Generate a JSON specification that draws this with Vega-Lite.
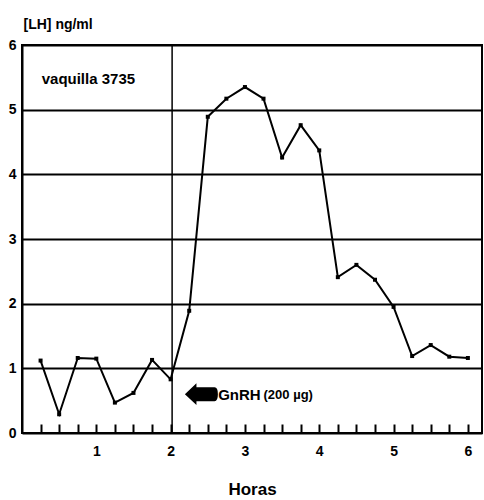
{
  "$schema": "https://vega.github.io/schema/vega-lite/v6.json",
  "width": 460,
  "height": 388,
  "autosize": {"type": "none"},
  "padding": {"left": 22, "top": 45, "right": 2, "bottom": 67},
  "background": "white",
  "config": {
    "view": {"stroke": "black", "strokeWidth": 2},
    "font": "Liberation Sans"
  },
  "datasets": {
    "lh": [
      {"hora": 0.25, "lh": 1.12},
      {"hora": 0.5, "lh": 0.29},
      {"hora": 0.75, "lh": 1.16},
      {"hora": 1.0, "lh": 1.15},
      {"hora": 1.25, "lh": 0.47},
      {"hora": 1.5, "lh": 0.62},
      {"hora": 1.75, "lh": 1.13},
      {"hora": 2.0, "lh": 0.83},
      {"hora": 2.25, "lh": 1.89},
      {"hora": 2.5, "lh": 4.89},
      {"hora": 2.75, "lh": 5.17},
      {"hora": 3.0, "lh": 5.35},
      {"hora": 3.25, "lh": 5.17},
      {"hora": 3.5, "lh": 4.26},
      {"hora": 3.75, "lh": 4.76},
      {"hora": 4.0, "lh": 4.37},
      {"hora": 4.25, "lh": 2.41},
      {"hora": 4.5, "lh": 2.6},
      {"hora": 4.75, "lh": 2.37},
      {"hora": 5.0, "lh": 1.95},
      {"hora": 5.25, "lh": 1.19},
      {"hora": 5.5, "lh": 1.36},
      {"hora": 5.75, "lh": 1.18},
      {"hora": 6.0, "lh": 1.16}
    ],
    "gnrh": [{"hora": 2.02}],
    "flecha": [{"hora": 2.414, "lh": 0.6}],
    "etiquetas": [
      {"hora": 0.265, "lh": 5.47, "texto": "vaquilla 3735", "tam": 15},
      {"hora": 2.64, "lh": 0.59, "texto": "GnRH", "tam": 15},
      {"hora": 3.25, "lh": 0.59, "texto": "(200 µg)", "tam": 13}
    ]
  },
  "layer": [
    {
      "data": {"name": "lh"},
      "mark": {"type": "line", "color": "black", "strokeWidth": 2},
      "encoding": {
        "x": {
          "field": "hora",
          "type": "quantitative",
          "scale": {"domain": [0, 6.19], "nice": false, "zero": false},
          "axis": {
            "values": [0.25, 0.5, 0.75, 1, 1.25, 1.5, 1.75, 2, 2.25, 2.5, 2.75, 3, 3.25, 3.5, 3.75, 4, 4.25, 4.5, 4.75, 5, 5.25, 5.5, 5.75, 6],
            "tickCount": 40,
            "format": ".2f",
            "labelExpr": "datum.value == round(datum.value) ? format(datum.value, 'd') : ''",
            "labelOverlap": false,
            "labelFlush": false,
            "grid": false,
            "offset": -9,
            "domain": false,
            "ticks": true,
            "tickSize": 9,
            "tickColor": "black",
            "tickOpacity": 1,
            "tickWidth": 2,
            "zindex": 1,
            "labelFont": "Liberation Sans",
            "labelFontWeight": "bold",
            "labelFontSize": 14,
            "labelColor": "black",
            "labelPadding": 11,
            "title": "Horas",
            "titleFont": "Liberation Sans",
            "titleFontWeight": "bold",
            "titleFontSize": 17,
            "titleColor": "black",
            "titleBaseline": "middle",
            "titleY": 65
          }
        },
        "y": {
          "field": "lh",
          "type": "quantitative",
          "scale": {"domain": [0, 6], "nice": false},
          "axis": {
            "values": [0, 1, 2, 3, 4, 5, 6],
            "format": "d",
            "grid": true,
            "gridColor": "black",
            "gridWidth": 2,
            "gridOpacity": 1,
            "ticks": false,
            "domainColor": "black",
            "domainWidth": 2,
            "labelFont": "Liberation Sans",
            "labelFontWeight": "bold",
            "labelFontSize": 14,
            "labelColor": "black",
            "labelPadding": 6,
            "title": "[LH] ng/ml",
            "titleFont": "Liberation Sans",
            "titleFontWeight": "bold",
            "titleFontSize": 14,
            "titleColor": "black",
            "titleAngle": 0,
            "titleAlign": "left",
            "titleBaseline": "middle",
            "titleX": 1,
            "titleY": -21
          }
        }
      }
    },
    {
      "data": {"name": "lh"},
      "mark": {"type": "square", "color": "black", "size": 16, "opacity": 1},
      "encoding": {
        "x": {"field": "hora", "type": "quantitative"},
        "y": {"field": "lh", "type": "quantitative"}
      }
    },
    {
      "data": {"name": "gnrh"},
      "mark": {"type": "rule", "color": "black", "strokeWidth": 1.5},
      "encoding": {
        "x": {"field": "hora", "type": "quantitative"}
      }
    },
    {
      "data": {"name": "flecha"},
      "mark": {
        "type": "point",
        "filled": true,
        "color": "black",
        "opacity": 1,
        "size": 1089,
        "shape": "M -1 0 L -0.3 -0.66 L -0.3 -0.42 L 0.8 -0.42 Q 1 -0.42 1 0 Q 1 0.42 0.8 0.42 L -0.3 0.42 L -0.3 0.66 Z"
      },
      "encoding": {
        "x": {"field": "hora", "type": "quantitative"},
        "y": {"field": "lh", "type": "quantitative"}
      }
    },
    {
      "data": {"name": "etiquetas"},
      "mark": {"type": "text", "align": "left", "baseline": "middle", "fontWeight": "bold", "font": "Liberation Sans", "color": "black"},
      "encoding": {
        "x": {"field": "hora", "type": "quantitative"},
        "y": {"field": "lh", "type": "quantitative"},
        "text": {"field": "texto"},
        "size": {"field": "tam", "type": "quantitative", "scale": null}
      }
    }
  ]
}
